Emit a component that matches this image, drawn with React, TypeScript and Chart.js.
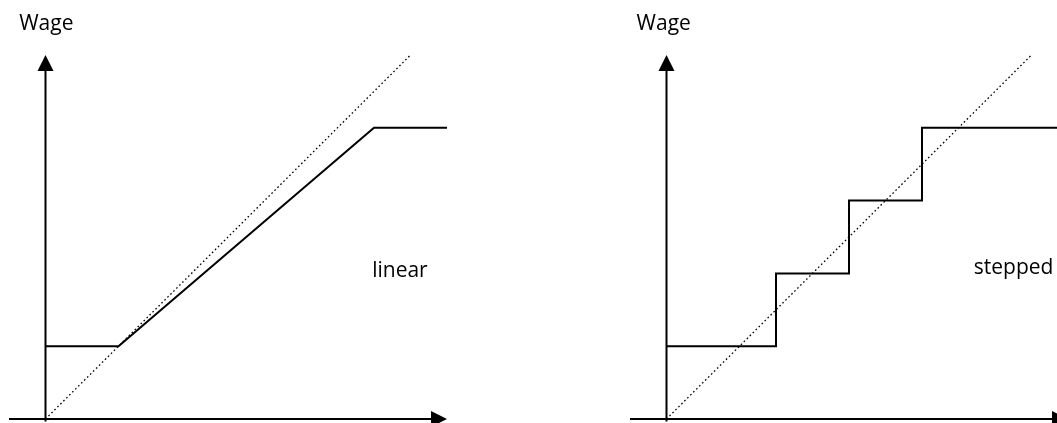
import React, { useEffect, useRef } from "react";
import { Chart, registerables } from "chart.js";

Chart.register(...registerables);

// ---- data ----
const linearX = [0, 2, 9, 11];
const linearY = [2, 2, 8, 8];
const stepX = [0, 3, 5, 7, 11.5];
const stepY = [2, 4, 6, 8, 8];
const diagonalX = [0, 10];
const diagonalY = [0, 10];
const axisTitle = "Wage";
const panelNames = ["linear", "stepped"];

const W = 621;
const H = 423;
const FONT = '"Open Sans", "DejaVu Sans", sans-serif';

const toPts = (xs: number[], ys: number[]) => xs.map((x, i) => ({ x, y: ys[i] }));

const axesPlugin = {
  id: "axesPlugin",
  beforeDatasetsDraw(chart: any) {
    const { ctx } = chart;
    const xs = chart.scales.x;
    const ys = chart.scales.y;
    const ox = xs.getPixelForValue(0);
    const oy = ys.getPixelForValue(0);
    const xl = xs.getPixelForValue(-1);
    const xr = xs.getPixelForValue(11);
    const yt = ys.getPixelForValue(10);
    const yb = ys.getPixelForValue(-0.07);
    ctx.save();
    ctx.strokeStyle = "#000";
    ctx.fillStyle = "#000";
    ctx.lineWidth = 2;
    // y axis
    ctx.beginPath();
    ctx.moveTo(ox, yb);
    ctx.lineTo(ox, yt + 14);
    ctx.stroke();
    ctx.beginPath();
    ctx.moveTo(ox, yt);
    ctx.lineTo(ox - 8, yt + 16);
    ctx.lineTo(ox + 8, yt + 16);
    ctx.closePath();
    ctx.fill();
    // x axis
    ctx.beginPath();
    ctx.moveTo(xl, oy);
    ctx.lineTo(xr - 14, oy);
    ctx.stroke();
    ctx.beginPath();
    ctx.moveTo(xr, oy);
    ctx.lineTo(xr - 16, oy - 8);
    ctx.lineTo(xr - 16, oy + 8);
    ctx.closePath();
    ctx.fill();
    ctx.restore();
  },
  afterDatasetsDraw(chart: any, _args: any, opts: any) {
    const { ctx } = chart;
    const xs = chart.scales.x;
    const ys = chart.scales.y;
    ctx.save();
    ctx.fillStyle = "#000";
    ctx.font = `21px ${FONT}`;
    ctx.textBaseline = "alphabetic";
    ctx.textAlign = "left";
    ctx.fillText(axisTitle, xs.getPixelForValue(opts.titleX), ys.getPixelForValue(10.69));
    ctx.textAlign = opts.nameAlign;
    ctx.fillText(opts.name, xs.getPixelForValue(opts.nameX), ys.getPixelForValue(opts.nameY));
    ctx.restore();
  },
};

function makeConfig(kind: "linear" | "stepped"): any {
  const main =
    kind === "linear"
      ? { data: toPts(linearX, linearY), stepped: false }
      : { data: toPts(stepX, stepY), stepped: "before" };
  return {
    type: "line",
    data: {
      datasets: [
        {
          data: toPts(diagonalX, diagonalY),
          borderColor: "#000",
          borderWidth: 1.3,
          borderDash: [1.6, 2.6],
          pointRadius: 0,
          clip: false,
        },
        {
          data: main.data,
          stepped: main.stepped,
          borderColor: "#000",
          borderWidth: 2,
          pointRadius: 0,
          tension: 0,
          clip: false,
        },
      ],
    },
    options: {
      responsive: false,
      animation: false,
      devicePixelRatio: 1,
      layout: { padding: { left: 9, right: W - 447, top: 55, bottom: H - 419 } },
      scales: {
        x: { type: "linear", min: -1, max: 11, display: false },
        y: { type: "linear", min: 0, max: 10, display: false },
      },
      plugins: {
        legend: { display: false },
        tooltip: { enabled: false },
        axesPlugin:
          kind === "linear"
            ? { titleX: -0.72, name: panelNames[0], nameX: 8.95, nameY: 3.91, nameAlign: "left" }
            : { titleX: -0.82, name: panelNames[1], nameX: 10.6, nameY: 3.98, nameAlign: "right" },
      },
    },
    plugins: [axesPlugin],
  };
}

function Panel({ kind, left }: { kind: "linear" | "stepped"; left: number }) {
  const ref = useRef<HTMLCanvasElement | null>(null);
  useEffect(() => {
    if (!ref.current) return;
    const chart = new Chart(ref.current, makeConfig(kind));
    return () => chart.destroy();
  }, [kind]);
  return (
    <canvas
      ref={ref}
      width={W}
      height={H}
      style={{ position: "absolute", left, top: 0, width: W, height: H }}
    />
  );
}

export default function App() {
  return (
    <div
      style={{
        position: "fixed",
        left: 0,
        top: 0,
        width: 1057,
        height: 423,
        overflow: "hidden",
        background: "#fff",
      }}
    >
      <Panel kind="linear" left={0} />
      <Panel kind="stepped" left={621} />
    </div>
  );
}
